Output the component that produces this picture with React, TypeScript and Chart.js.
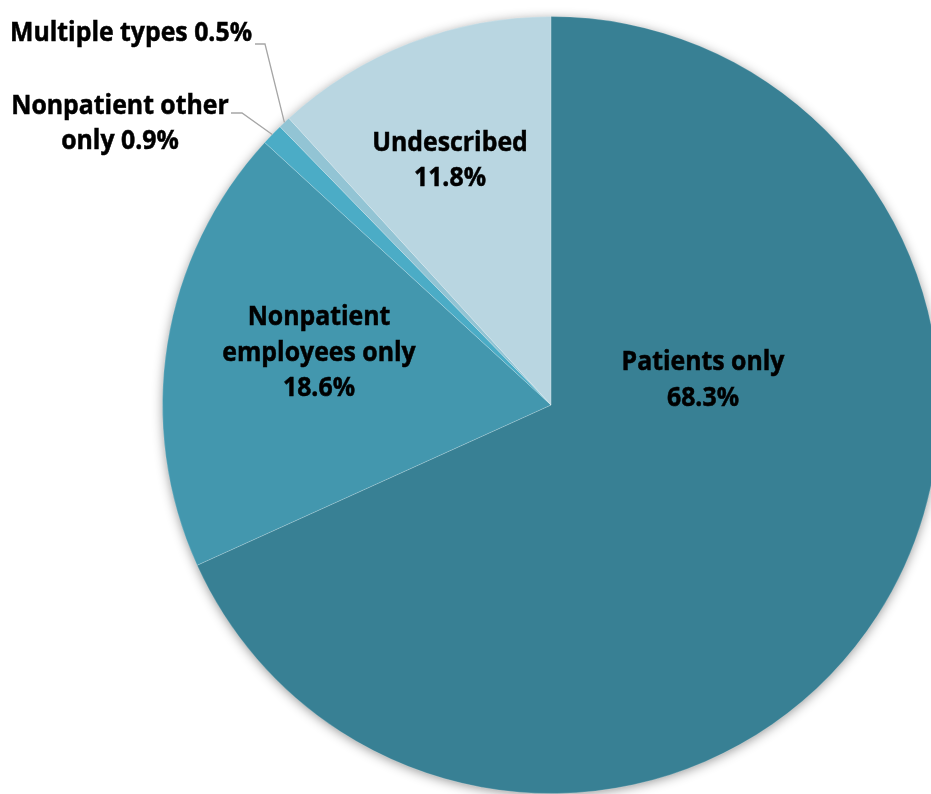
import React, { useEffect, useRef } from "react";
import { Chart, registerables } from "chart.js";

Chart.register(...registerables);

const categories = [
  "Patients only",
  "Nonpatient employees only",
  "Nonpatient other only",
  "Multiple types",
  "Undescribed",
];
const shares = [68.3, 18.6, 0.9, 0.5, 11.8];
const sliceColors = ["#388094", "#4397AE", "#4BACC6", "#92C4D4", "#B9D6E1"];
// label text lines per slice (percent appended from shares)
const labelLines = [
  ["Patients only", "{p}"],
  ["Nonpatient", "employees only", "{p}"],
  ["Nonpatient other", "only {p}"],
  ["Multiple types {p}"],
  ["Undescribed", "{p}"],
];

const FONT = "bold 26px 'Open Sans', Lato, sans-serif";
const SCALE_X = 0.955;
const LINE_H = 35.5;

function drawText(ctx: CanvasRenderingContext2D, text: string, x: number, yMid: number, align: "center" | "right") {
  ctx.save();
  ctx.font = FONT;
  ctx.textBaseline = "alphabetic";
  const w = ctx.measureText(text).width * SCALE_X;
  const left = align === "center" ? x - w / 2 : x - w;
  ctx.translate(left, yMid + 9.3);
  ctx.scale(SCALE_X, 1);
  ctx.textAlign = "left";
  ctx.fillStyle = "#000";
  ctx.strokeStyle = "#000";
  ctx.lineWidth = 0.5;
  ctx.fillText(text, 0, 0);
  ctx.strokeText(text, 0, 0);
  ctx.restore();
}

const shadowPlugin = {
  id: "pieShadow",
  beforeDatasetsDraw(chart: any) {
    const arc = chart.getDatasetMeta(0).data[0];
    if (!arc) return;
    const { x, y, outerRadius } = arc.getProps(["x", "y", "outerRadius"], true);
    const ctx = chart.ctx;
    ctx.save();
    ctx.shadowColor = "rgba(0,0,0,0.45)";
    ctx.shadowBlur = 12;
    ctx.shadowOffsetX = 0;
    ctx.shadowOffsetY = 2;
    ctx.fillStyle = "#ffffff";
    ctx.beginPath();
    ctx.arc(x, y, outerRadius - 1, 0, Math.PI * 2);
    ctx.fill();
    ctx.restore();
  },
};

// label anchors: x, y-center of the block, alignment, leader elbow
const labelLayout: any[] = [
  { x: 703, y: 378.5, align: "center" },
  { x: 319, y: 351.5, align: "center" },
  { x: 120, y: 122, align: "center", leader: [[231, 113], [242, 113]] },
  { x: 252, y: 32, align: "right", leader: [[255, 44], [265, 44]] },
  { x: 450, y: 159, align: "center" },
];

const labelPlugin = {
  id: "sliceLabels",
  afterDatasetsDraw(chart: any) {
    const ctx = chart.ctx as CanvasRenderingContext2D;
    const meta = chart.getDatasetMeta(0);
    meta.data.forEach((arc: any, i: number) => {
      const lay = labelLayout[i];
      const pct = shares[i].toFixed(1) + "%";
      const lines = labelLines[i].map((s) => s.replace("{p}", pct));
      const y0 = lay.y - ((lines.length - 1) * LINE_H) / 2;
      lines.forEach((t, k) => drawText(ctx, t, lay.x, y0 + k * LINE_H, lay.align));
      if (lay.leader) {
        const { x, y, startAngle, endAngle, outerRadius } = arc.getProps(
          ["x", "y", "startAngle", "endAngle", "outerRadius"],
          true
        );
        const mid = (startAngle + endAngle) / 2;
        const ex = x + Math.cos(mid) * outerRadius;
        const ey = y + Math.sin(mid) * outerRadius;
        ctx.save();
        ctx.strokeStyle = "#A6A6A6";
        ctx.lineWidth = 1.3;
        ctx.beginPath();
        ctx.moveTo(lay.leader[0][0], lay.leader[0][1]);
        ctx.lineTo(lay.leader[1][0], lay.leader[1][1]);
        ctx.lineTo(ex, ey);
        ctx.stroke();
        ctx.restore();
      }
    });
  },
};

export default function App() {
  const ref = useRef<HTMLCanvasElement | null>(null);
  useEffect(() => {
    document.body.style.margin = "0";
    const canvas = ref.current;
    if (!canvas) return;
    const chart = new Chart(canvas, {
      type: "pie",
      data: {
        labels: categories,
        datasets: [
          {
            data: shares,
            backgroundColor: sliceColors,
            borderColor: "rgba(255,255,255,0.18)",
            borderWidth: 1,
          },
        ],
      },
      options: {
        animation: false,
        responsive: false,
        devicePixelRatio: 1,
        layout: { padding: 16 },
        plugins: {
          legend: { display: false },
          tooltip: { enabled: false },
        },
      },
      plugins: [shadowPlugin, labelPlugin],
    });
    return () => chart.destroy();
  }, []);
  return (
    <div
      style={{
        position: "fixed",
        left: 0,
        top: 0,
        width: 931,
        height: 794,
        overflow: "hidden",
        background: "#fff",
      }}
    >
      <canvas ref={ref} width={1102} height={810} style={{ width: 1102, height: 810, display: "block" }} />
    </div>
  );
}
